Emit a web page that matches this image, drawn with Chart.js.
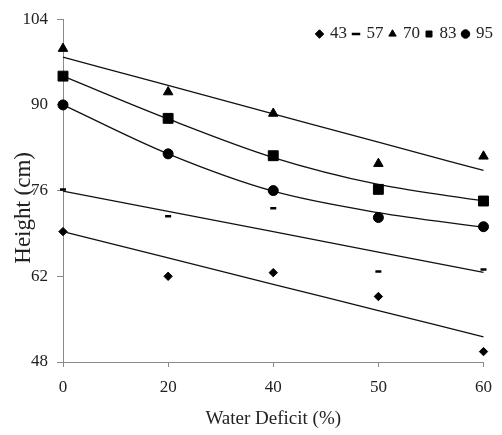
<!DOCTYPE html>
<html><head><meta charset="utf-8">
<script src="https://cdn.jsdelivr.net/npm/chart.js@4/dist/chart.umd.min.js"></script>
<style>html,body{margin:0;padding:0;background:#fff}canvas{display:block}</style>
</head><body>
<canvas id="c" width="502" height="435"></canvas>
<script>
const categories = ['0', '20', '40', '50', '60'];
const yTicks = [48, 62, 76, 90, 104];
const seriesNames = ['43', '57', '70', '83', '95'];
const series43 = [69.3, 62.0, 62.6, 58.7, 49.7];
const series57 = [76.2, 71.8, 73.1, 62.8, 63.1];
const series70 = [99.2, 92.1, 88.6, 80.4, 81.6];
const series83 = [94.7, 87.8, 81.7, 76.2, 74.3];
const series95 = [90.0, 82.0, 76.0, 71.6, 70.1];
const trend43 = [69.3, 65.0, 60.7, 56.4, 52.1];
const trend57 = [75.9, 72.6, 69.3, 65.95, 62.65];
const trend70 = [97.8, 93.2, 88.55, 83.9, 79.3];
const trend83 = [94.7, 87.7, 81.4, 77.0, 74.3];
const trend95 = [90.0, 82.0, 75.9, 72.4, 70.0];

const FONT = "'Liberation Serif', 'Times New Roman', serif";
const TXT = '#222';
const AX = '#8a8a8a';

function pts(label, data, style, radius, bw) {
  return {
    label, data, showLine: false, pointStyle: style, pointRadius: radius,
    pointHoverRadius: radius, pointBackgroundColor: '#000', pointBorderColor: '#000',
    pointBorderWidth: bw, borderColor: '#000', backgroundColor: '#000'
  };
}
function trend(label, data) {
  return {
    label, data, pointRadius: 0, borderColor: '#111', borderWidth: 1.3,
    cubicInterpolationMode: 'monotone', fill: false
  };
}

// lets the legend sit inside the plot area (top right) without taking layout space
const legendOverlay = {
  id: 'legendOverlay',
  afterInit(chart) {
    const lg = chart.legend;
    const f = lg.fit;
    lg.fit = function () { f.call(this); this._realH = this.height; this.height = 0; };
  },
  afterLayout(chart) {
    const lg = chart.legend;
    lg.top = 18.5;
    lg.height = lg._realH || 30;
    lg.bottom = lg.top + lg.height;
    lg.left += 9; lg.right += 9;
  }
};

new Chart(document.getElementById('c'), {
  type: 'line',
  data: {
    labels: categories,
    datasets: [
      pts(seriesNames[0], series43, 'rectRot', 4.2, 1),
      pts(seriesNames[1], series57, 'line', 3, 2.5),
      pts(seriesNames[2], series70, 'triangle', 5.5, 1),
      pts(seriesNames[3], series83, 'rect', 7, 1),
      pts(seriesNames[4], series95, 'circle', 5, 1),
      trend('t43', trend43),
      trend('t57', trend57),
      trend('t70', trend70),
      trend('t83', trend83),
      trend('t95', trend95)
    ]
  },
  options: {
    responsive: false,
    devicePixelRatio: 1,
    animation: false,
    layout: { padding: { top: 17, right: 11, left: 0, bottom: 0 } },
    plugins: {
      tooltip: { enabled: false },
      legend: {
        position: 'top',
        align: 'end',
        labels: {
          usePointStyle: true,
          boxWidth: 4,
          boxHeight: 6,
          padding: 7,
          color: TXT,
          font: { family: FONT, size: 17 },
          filter: (item) => item.datasetIndex < 5
        }
      }
    },
    scales: {
      x: {
        type: 'category',
        offset: false,
        grid: { display: true, drawOnChartArea: false, drawTicks: true, tickLength: 5, color: AX },
        border: { color: AX, width: 1 },
        ticks: { color: TXT, font: { family: FONT, size: 17 }, padding: 10, maxRotation: 0 },
        title: { display: true, text: 'Water Deficit (%)', color: TXT, font: { family: FONT, size: 19 }, padding: { top: 0, bottom: 5 } },
        afterFit: (s) => { s.height = 73; }
      },
      y: {
        type: 'linear',
        min: 48, max: 104,
        afterBuildTicks: (s) => { s.ticks = yTicks.map(v => ({ value: v })); },
        grid: { display: true, drawOnChartArea: false, drawTicks: true, tickLength: 6, color: AX },
        border: { color: AX, width: 1 },
        ticks: { color: TXT, font: { family: FONT, size: 17 }, padding: 9 },
        title: { display: true, text: 'Height (cm)      ', color: TXT, font: { family: FONT, size: 23 }, padding: { top: 10, bottom: 0 } },
        afterFit: (s) => { s.width = 63; }
      }
    }
  },
  plugins: [legendOverlay]
});
</script>
</body></html>
